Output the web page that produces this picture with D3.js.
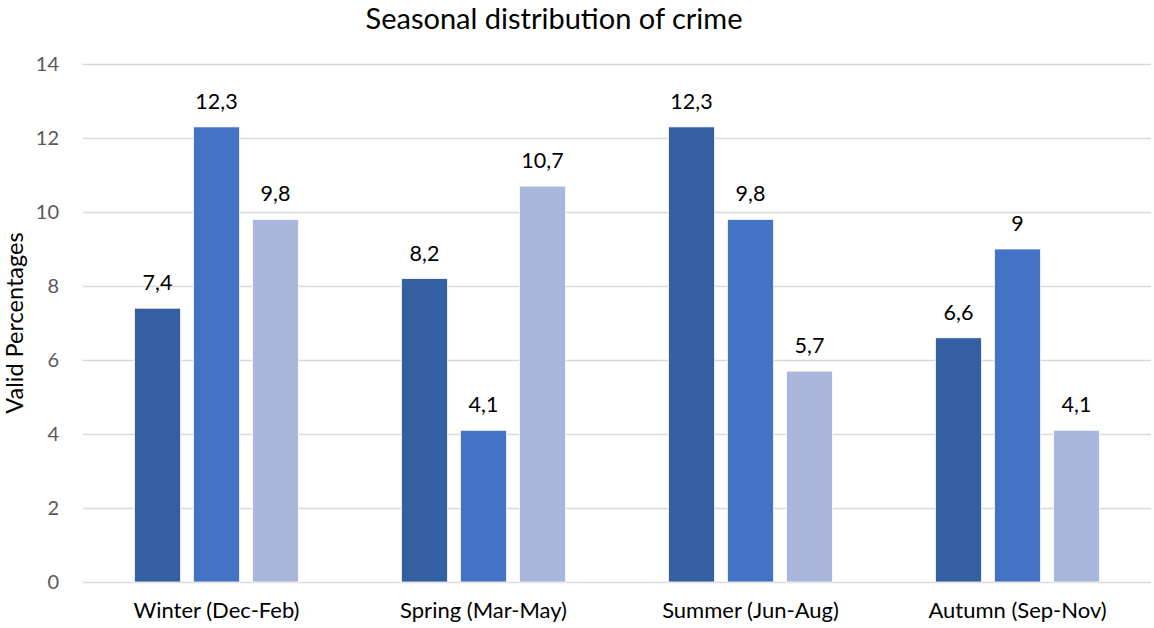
<!DOCTYPE html>
<html>
<head>
<meta charset="utf-8">
<script src="https://cdn.jsdelivr.net/npm/d3@7"></script>
<style>
  body { margin: 0; background: #fff; }
  svg { font-family: Lato, "Open Sans", sans-serif; }
  .grid line { stroke: #d9d9d9; stroke-width: 1.5; }
  .grid .domain { display: none; }
</style>
</head>
<body>
<div id="chart"></div>
<script>
const categories = ["Winter (Dec-Feb)", "Spring (Mar-May)", "Summer (Jun-Aug)", "Autumn (Sep-Nov)"]
const series = ["s1", "s2", "s3"]
const values1 = [7.4, 8.2, 12.3, 6.6]
const values2 = [12.3, 4.1, 9.8, 9.0]
const values3 = [9.8, 10.7, 5.7, 4.1]
const yTicks = [0, 2, 4, 6, 8, 10, 12, 14]
const colors = ["#355fa3", "#4472c4", "#a9b7dc"]

const W = 1154, H = 628
const margin = {top: 64, right: 3, bottom: 46, left: 83}
const width = W - margin.left - margin.right,
      height = H - margin.top - margin.bottom

const rows = categories.map((c, i) => ({cat: c, vals: [values1[i], values2[i], values3[i]]}))

const svg = d3.select("#chart").append("svg")
    .attr("width", W)
    .attr("height", H)

const g = svg.append("g")
    .attr("transform", "translate(" + margin.left + "," + margin.top + ")")

const x0 = d3.scaleBand()
    .domain(categories)
    .range([0, width])
    .padding(0)

const groupW = 164
const off = (x0.bandwidth() - groupW) / 2
const x1 = d3.scaleBand()
    .domain(series)
    .range([off, off + groupW])
    .paddingInner(0.22)

const y = d3.scaleLinear()
    .domain([0, 14])
    .range([height, 0])

// gridlines
g.append("g")
    .attr("class", "grid")
    .call(d3.axisLeft(y)
        .tickValues(yTicks)
        .tickSize(-width)
        .tickFormat("")
    )

// y tick labels
g.append("g")
    .attr("class", "axis axis--y")
    .call(d3.axisLeft(y).tickValues(yTicks).tickSize(0).tickPadding(24))
    .call(s => s.select(".domain").remove())
    .selectAll("text")
    .attr("fill", "#595959")
    .style("font-size", "20px")
    .style("font-family", "Lato, sans-serif")

// x labels
g.append("g")
    .attr("class", "axis axis--x")
    .attr("transform", "translate(0," + height + ")")
    .call(d3.axisBottom(x0).tickSize(0).tickPadding(20))
    .call(s => s.select(".domain").remove())
    .selectAll("text")
    .attr("fill", "#000")
    .style("font-size", "22px")
    .style("font-family", "Lato, sans-serif")

const groups = g.selectAll(".group")
    .data(rows)
    .enter().append("g")
    .attr("class", "group")
    .attr("transform", d => "translate(" + x0(d.cat) + ",0)")

groups.selectAll("rect")
    .data(d => d.vals.map((v, i) => ({key: series[i], v: v, i: i})))
    .enter().append("rect")
    .attr("x", d => x1(d.key))
    .attr("width", x1.bandwidth())
    .attr("y", d => y(d.v))
    .attr("height", d => height - y(d.v))
    .attr("fill", d => colors[d.i])
    .attr("stroke", "#fff")
    .attr("stroke-width", 0.75)

groups.selectAll(".lbl")
    .data(d => d.vals.map((v, i) => ({key: series[i], v: v, i: i})))
    .enter().append("text")
    .attr("class", "lbl")
    .attr("x", d => x1(d.key) + x1.bandwidth() / 2)
    .attr("y", d => y(d.v) - 18)
    .attr("text-anchor", "middle")
    .attr("fill", "#000")
    .style("font-size", "21.5px")
    .text(d => String(d.v).replace(".", ","))

// title (centred on the whole chart box, not the plot)
svg.append("text")
    .attr("x", 554)
    .attr("y", 29)
    .attr("text-anchor", "middle")
    .attr("fill", "#000")
    .style("font-size", "29px")
    .text("Seasonal distribution of crime")

// y axis title
svg.append("text")
    .attr("transform", "translate(23," + (margin.top + height / 2) + ") rotate(-90)")
    .attr("text-anchor", "middle")
    .attr("fill", "#000")
    .style("font-size", "23.5px")
    .text("Valid Percentages")
</script>
</body>
</html>
